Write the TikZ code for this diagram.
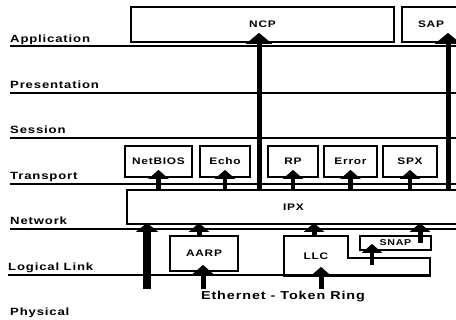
\documentclass[tikz,border=0pt]{standalone}
\usepackage{fontspec}
\setmainfont{Liberation Sans}
\newfontfamily\lbl[FakeStretch=1.25,LetterSpace=8]{Liberation Sans}
\usetikzlibrary{arrows.meta,calc}
\begin{document}
\begin{tikzpicture}[x=1pt,y=-1pt,
  layer/.style={line width=1.6pt},
  box/.style={draw, line width=1.8pt, inner sep=0pt, font=\lbl\bfseries\fontsize{9.5}{10}\selectfont},
  lab/.style={anchor=base west, inner sep=0pt, font=\lbl\bfseries\fontsize{10.5}{12}\selectfont},
  bigarr/.style={line width=5pt, -{Triangle[width=26pt,length=11pt]}},
  arr/.style={line width=4.5pt, -{Triangle[width=20pt,length=9pt]}},
  netarr/.style={line width=5pt, -{Triangle[width=20pt,length=9pt]}},
  fatarr/.style={line width=8pt, -{Triangle[width=22pt,length=9pt]}},
]
\useasboundingbox (0,0) rectangle (456,320);
\clip (0,0) rectangle (456,320);

% layer lines
\foreach \yy in {46,93,138,184,229} \draw[layer] (10,\yy) -- (460,\yy);
\draw[layer] (8,275) -- (430,275);

% layer labels
\node[lab] (lApp) at (10,43) {Application};
\node[lab] (lPre) at (10,89) {Presentation};
\node[lab] (lSes) at (10,134) {Session};
\node[lab] (lTra) at (10,180) {Transport};
\node[lab] (lNet) at (10,225) {Network};
\node[lab] (lLog) at (8,271) {Logical Link};
\node[lab] (lPhy) at (10,316) {Physical};

% application boxes
\node[box, minimum width=263, minimum height=35] (ncp) at (262.5,24.5) {NCP};
\node[box, minimum width=58, minimum height=35] (sap) at (431,24.5) {SAP};

% transport boxes
\node[box, minimum width=67, minimum height=31] (netbios) at (158.5,161.5) {NetBIOS};
\node[box, minimum width=50, minimum height=31] (echo) at (225,161.5) {Echo};
\node[box, minimum width=50, minimum height=31] (rp) at (293,161.5) {RP};
\node[box, minimum width=53, minimum height=31] (error) at (350.5,161.5) {Error};
\node[box, minimum width=54, minimum height=31] (spx) at (410,161.5) {SPX};

% IPX
\node[box, minimum width=333, minimum height=34] (ipx) at (293.5,207) {IPX};

% logical link boxes
\node[box, minimum width=68, minimum height=35] (aarp) at (204,253.5) {AARP};
\node[box, draw=none, minimum width=62, minimum height=38] (llc) at (316,256) {LLC};
\coordinate (llcstep) at (430,258);
\draw[line width=1.8pt] (llc.north west) -- (llc.north east) -- (llc.north east |- llcstep)
  -- (llcstep) -- (llcstep |- llc.south) -- (llc.south west) -- cycle;
\node[box, minimum width=71, minimum height=14, font=\lbl\bfseries\fontsize{8.5}{9}\selectfont] (snap) at (395.5,243) {SNAP};

% x positions and free ends
\coordinate (ncpx) at (259,0);
\coordinate (sapx) at (448,0);
\coordinate (a1) at (199,0);
\coordinate (l1) at (314,0);
\coordinate (s1) at (420,0);
\coordinate (s2) at (372,265);
\coordinate (p1) at (147,289);
\coordinate (p2) at (203,289);
\coordinate (p3) at (321,289);

% arrows to application
\draw[bigarr] (ipx.north -| ncpx) -- ($(ncp.south -| ncpx)+(0,-10)$);
\draw[bigarr] (ipx.north -| sapx) -- ($(sap.south -| sapx)+(0,-10)$);

% arrows to transport
\foreach \b in {netbios,echo,rp,error,spx}
  \draw[arr] (ipx.north -| \b) -- ($(\b.south)+(0,-8)$);

% arrows to IPX
\draw[fatarr] (p1) -- ($(ipx.south -| p1)+(0,-2)$);
\draw[netarr] (aarp.north -| a1) -- ($(ipx.south -| a1)+(0,-2)$);
\draw[netarr] (llc.north -| l1) -- ($(ipx.south -| l1)+(0,-2)$);
\draw[netarr] (snap.center -| s1) -- ($(ipx.south -| s1)+(0,-2)$);

% arrows from physical
\draw[netarr] (p2) -- ($(aarp.south -| p2)+(0,-7)$);
\draw[netarr] (p3) -- ($(llc.south -| p3)+(0,-9)$);
\draw[arr] (s2) -- ($(snap.south -| s2)+(0,-7)$);

\node[font=\lbl\bfseries\fontsize{11.5}{13}\selectfont, inner sep=0pt] (eth) at (283,297) {Ethernet - Token Ring};
\end{tikzpicture}
\end{document}
